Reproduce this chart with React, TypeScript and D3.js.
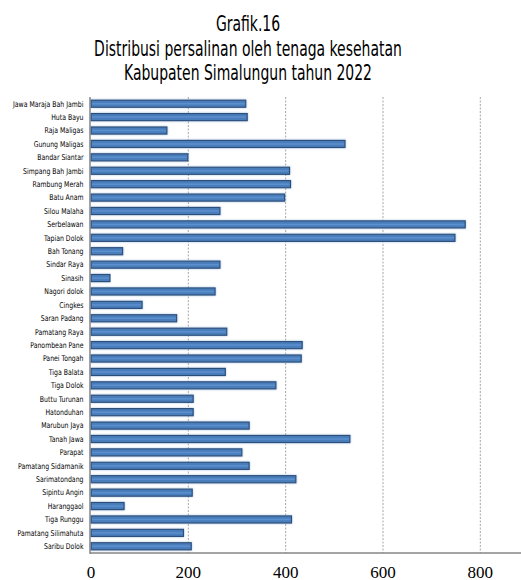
import React from "react";
import * as d3 from "d3";

const categories = [
  "Jawa Maraja Bah Jambi", "Huta Bayu", "Raja Maligas", "Gunung Maligas", "Bandar Siantar",
  "Simpang Bah Jambi", "Rambung Merah", "Batu Anam", "Silou Malaha", "Serbelawan",
  "Tapian Dolok", "Bah Tonang", "Sindar Raya", "Sinasih", "Nagori dolok", "Cingkes",
  "Saran Padang", "Pamatang Raya", "Panombean Pane", "Panei Tongah", "Tiga Balata",
  "Tiga Dolok", "Buttu Turunan", "Hatonduhan", "Marubun Jaya", "Tanah Jawa", "Parapat",
  "Pamatang Sidamanik", "Sarimatondang", "Sipintu Angin", "Haranggaol", "Tiga Runggu",
  "Pamatang Silimahuta", "Saribu Dolok",
];
const values = [
  318, 321, 156, 522, 199,
  408, 410, 398, 265, 769,
  748, 65, 265, 39, 255, 105,
  176, 279, 434, 432, 276,
  380, 210, 210, 325, 532, 310,
  325, 421, 208, 68, 412,
  190, 206,
];
const xTicks = [0, 200, 400, 600, 800];
const titleLines = [
  "Grafik.16",
  "Distribusi persalinan oleh tenaga kesehatan",
  "Kabupaten Simalungun tahun 2022",
];

const condensed = "'DejaVu Sans Condensed', 'DejaVu Sans', sans-serif";

export default function App() {
  const W = 521, H = 580;
  const left = 90, right = 521, top = 97, bottom = 553;
  const x = d3.scaleLinear().domain([0, 800]).range([91, 480.3]);
  const y = d3.scaleBand().domain(categories).range([top, bottom]).paddingInner(0.47).paddingOuter(0.235);
  return (
    <svg width={W} height={H} style={{ position: "absolute", left: 0, top: 0 }}>
      <defs>
        <filter id="glow" x="-5%" y="-50%" width="110%" height="200%">
          <feGaussianBlur in="SourceAlpha" stdDeviation="0.8" result="b" />
          <feFlood floodColor="#8fb0d8" floodOpacity="0.8" />
          <feComposite in2="b" operator="in" />
          <feMerge>
            <feMergeNode />
            <feMergeNode in="SourceGraphic" />
          </feMerge>
        </filter>
      </defs>
      <rect width={W} height={H} fill="#fff" />
      {titleLines.map((t, i) => (
        <text key={i} transform={`translate(248,${31 + i * 24.5}) scale(0.706,1)`} textAnchor="middle"
          fontFamily={condensed} fontSize={22} fill="#000">{t}</text>
      ))}
      {xTicks.filter(t => t > 0).map(t => (
        <line key={t} x1={x(t)} x2={x(t)} y1={top} y2={bottom} stroke="#a6a6a6" strokeWidth={1} strokeDasharray="2,1.5" />
      ))}
      {categories.map((c, i) => (
        <g key={c}>
          <rect x={x(0)} y={y(c)!} width={x(values[i]) - x(0)} height={y.bandwidth()}
            fill="#4a7ebb" stroke="#2c4f7c" strokeWidth={1.2} filter="url(#glow)" />
          <line x1={x(0) + 1} x2={x(values[i]) - 1} y1={y(c)! + y.bandwidth() / 2} y2={y(c)! + y.bandwidth() / 2}
            stroke="#5b8fcf" strokeWidth={1.5} />
          <text transform={`translate(83.5,${y(c)! + y.bandwidth() / 2}) scale(0.86,1)`} dy="0.35em" textAnchor="end"
            fontFamily={condensed} fontSize={8} fill="#000">{c}</text>
        </g>
      ))}
      <line x1={left} x2={left} y1={top} y2={bottom + 1} stroke="#868686" strokeWidth={1.5} />
      <line x1={left} x2={right} y1={bottom} y2={bottom} stroke="#868686" strokeWidth={1.5} />
      {xTicks.map(t => (
        <text key={t} x={x(t)} y={577.5} textAnchor="middle"
          fontFamily="'Liberation Serif', serif" fontSize={17} fill="#000">{t}</text>
      ))}
    </svg>
  );
}
